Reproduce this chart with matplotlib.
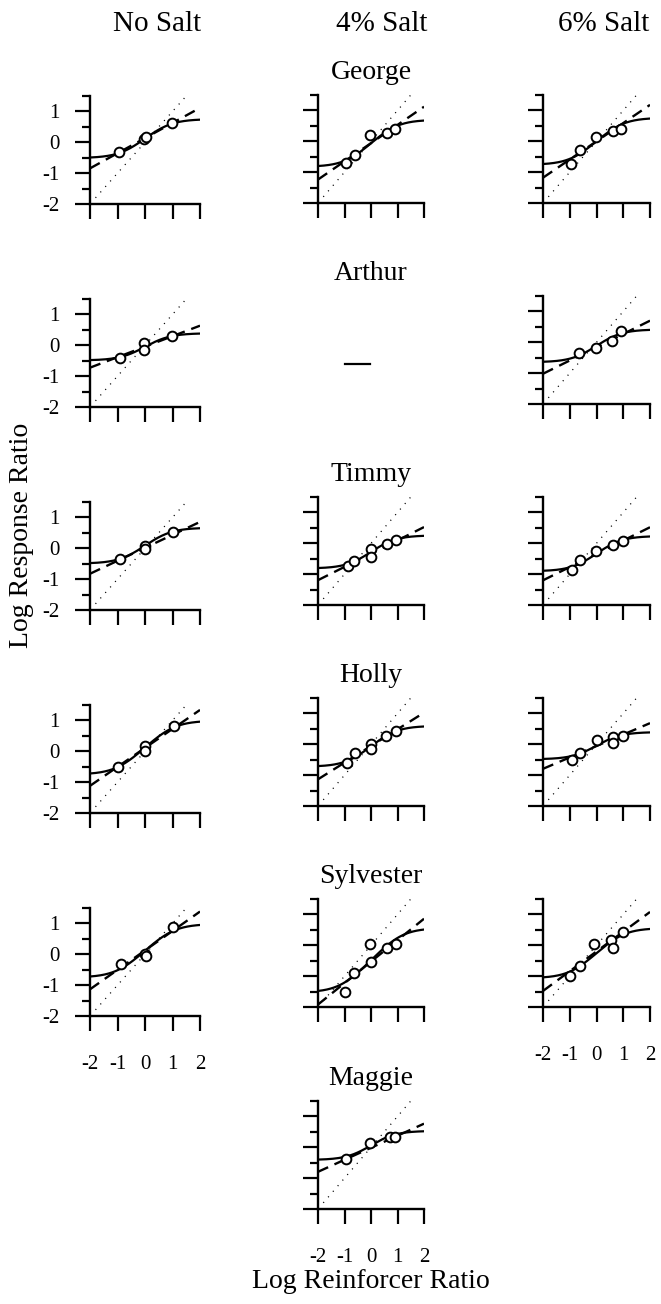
import matplotlib
matplotlib.use("Agg")
import matplotlib.pyplot as plt
import numpy as np
from matplotlib.lines import Line2D

plt.rcParams['font.family'] = ['Liberation Serif', 'DejaVu Serif']
plt.rcParams['axes.unicode_minus'] = False
plt.rcParams['lines.scale_dashes'] = False

W, H = 661, 1304

conditions = ["No Salt", "4% Salt", "6% Salt"]
subjects = ["George", "Arthur", "Timmy", "Holly", "Sylvester", "Maggie"]
x_ticks = [-2, -1, 0, 1, 2]
x_tick_labels = ["-2", "-1", "0", "1", "2"]
y_ticks = [-2, -1, 0, 1]
y_tick_labels = ["-2", "-1", "0", "1"]

# log reinforcer ratio / log response ratio, one list per condition (None = no panel)
george_x = [[-0.95, -0.02, 0.02, 0.97], [-0.95, -0.61, -0.02, 0.59, 0.90], [-0.96, -0.63, -0.01, 0.63, 0.91]]
george_y = [[-0.32, 0.10, 0.17, 0.62], [-0.71, -0.45, 0.20, 0.27, 0.40], [-0.75, -0.29, 0.14, 0.34, 0.41]]
arthur_x = [[-0.91, -0.04, -0.04, 0.97], None, [-0.66, -0.02, 0.58, 0.92]]
arthur_y = [[-0.41, 0.08, -0.16, 0.29], None, [-0.36, -0.17, 0.05, 0.38]]
timmy_x = [[-0.92, 0.0, 0.0, 1.03], [-0.88, -0.65, -0.01, -0.01, 0.62, 0.94], [-0.92, -0.62, -0.01, 0.63, 0.99]]
timmy_y = [[-0.35, 0.09, -0.02, 0.54], [-0.74, -0.58, -0.20, -0.44, -0.03, 0.11], [-0.87, -0.53, -0.26, -0.06, 0.08]]
holly_x = [[-1.0, 0.0, 0.0, 1.05], [-0.91, -0.59, -0.01, -0.01, 0.57, 0.95], [-0.92, -0.63, 0.03, 0.60, 0.60, 0.99]]
holly_y = [[-0.50, 0.16, 0.0, 0.83], [-0.60, -0.29, 0.02, -0.14, 0.27, 0.43], [-0.51, -0.27, 0.13, 0.24, 0.05, 0.27]]
sylvester_x = [[-0.87, 0.0, 0.03, 1.03], [-0.98, -0.65, -0.04, -0.01, 0.62, 0.95], [-1.0, -0.63, -0.10, 0.56, 0.60, 0.99]]
sylvester_y = [[-0.31, 0.0, -0.04, 0.89], [-1.51, -0.90, 0.05, -0.55, -0.08, 0.03], [-1.01, -0.66, 0.03, 0.16, -0.08, 0.44]]
maggie_x = [None, [-0.95, -0.04, 0.71, 0.90], None]
maggie_y = [None, [-0.38, 0.13, 0.33, 0.33], None]

# dashed line: generalized matching fit (sensitivity, log bias)
george_fit = [(0.49, 0.135), (0.59, -0.06), (0.59, 0.0)]
arthur_fit = [(0.34, -0.045), None, (0.43, -0.16)]
timmy_fit = [(0.42, 0.015), (0.43, -0.335), (0.43, -0.34)]
holly_fit = [(0.615, 0.11), (0.54, -0.055), (0.37, -0.055)]
sylvester_fit = [(0.63, 0.125), (0.695, -0.53), (0.64, -0.2)]
maggie_fit = [None, (0.39, -0.015), None]

# solid curve: contingency-discriminability fit (log bias, log d)
george_curve = [(0.12, 0.63), (-0.065, 0.76), (0.0, 0.76)]
arthur_curve = [(-0.05, 0.44), None, (-0.115, 0.53)]
timmy_curve = [(0.085, 0.58), (-0.28, 0.535), (-0.335, 0.57)]
holly_curve = [(0.12, 0.87), (-0.065, 0.66), (-0.045, 0.44)]
sylvester_curve = [(0.115, 0.865), (-0.485, 1.04), (-0.255, 0.81)]
maggie_curve = [None, (0.06, 0.47), None]

all_x = [george_x, arthur_x, timmy_x, holly_x, sylvester_x, maggie_x]
all_y = [george_y, arthur_y, timmy_y, holly_y, sylvester_y, maggie_y]
all_fit = [george_fit, arthur_fit, timmy_fit, holly_fit, sylvester_fit, maggie_fit]
all_curve = [george_curve, arthur_curve, timmy_curve, holly_curve, sylvester_curve, maggie_curve]

# panel placement in pixels
col_left = [90, 318, 543]
col_right = [200, 424, 650]
row_top = [[96, 299, 502, 705, 908, None],
           [95, 296, 497, 698, 899, 1101],
           [95, 296, 497, 698, 899, 1101]]
panel_h = 108
bottom_panels = {(4, 0), (5, 1), (4, 2)}
header_x = [157, 382, 604]

fig = plt.figure(figsize=(W / 100, H / 100), dpi=100)


def hacer_panel(r, c):
    left = col_left[c] / W
    top = row_top[c][r]
    ax = fig.add_axes([left, 1 - (top + panel_h) / H, (col_right[c] - col_left[c]) / W, panel_h / H])
    ax.set_xlim(-2, 2)
    ax.set_ylim(-2, 1.5)
    for s in ["top", "right"]:
        ax.spines[s].set_visible(False)
    for s in ["left", "bottom"]:
        ax.spines[s].set_linewidth(1.7)
    ax.set_xticks(x_ticks)
    ax.set_yticks(y_ticks)
    ax.set_yticks([-1.5, -0.5, 0.5, 1.5], minor=True)
    ax.tick_params(which="major", direction="out", length=11, width=1.6)
    ax.tick_params(which="minor", direction="out", length=5.5, width=1.6)
    ax.tick_params(axis="x", pad=17, labelsize=15)
    ax.tick_params(axis="y", pad=11, labelsize=15)
    if (r, c) in bottom_panels:
        ax.set_xticklabels(x_tick_labels)
    else:
        ax.set_xticklabels([])
    if c == 0:
        ax.set_yticklabels(y_tick_labels)
    else:
        ax.set_yticklabels([])
    return ax


xs = np.linspace(-2, 2, 200)
for r in range(len(subjects)):
    for c in range(len(conditions)):
        if all_x[r][c] is None:
            continue
        ax = hacer_panel(r, c)
        # diagonal (perfect matching)
        ax.plot([-1.8, 1.6], [-1.8, 1.6], color="black", lw=0.9, linestyle=(0, (0.8, 4.5)))
        slope, inter = all_fit[r][c]
        ax.plot(xs, slope * xs + inter, color="black", lw=1.7, dashes=(8, 5))
        lb, ld = all_curve[r][c]
        d = 10 ** ld
        rr = 10 ** xs
        ax.plot(xs, lb + np.log10((d * rr + 1) / (rr + d)), color="black", lw=1.6)
        ax.plot(all_x[r][c], all_y[r][c], "o", mfc="white", mec="black", ms=7, mew=1.4, zorder=5)

# column headers and subject names
for c, name in enumerate(conditions):
    fig.text(header_x[c] / W, 1 - 31 / H, name, ha="center", va="baseline", fontsize=21)
for r, name in enumerate(subjects):
    fig.text(371 / W, 1 - (row_top[1][r] - 16) / H, name, ha="center", va="baseline", fontsize=20)

# stray mark where Arthur's 4% panel is missing
fig.add_artist(Line2D([345 / W, 370 / W], [1 - 364 / H, 1 - 364 / H], color="black", lw=1.6))

fig.text(22 / W, 1 - 535 / H, "Log Response Ratio", rotation=90, ha="center", va="center", fontsize=20)
fig.text(371 / W, 1 - 1288 / H, "Log Reinforcer Ratio", ha="center", va="baseline", fontsize=20)

fig.savefig("out.png", dpi=100)
